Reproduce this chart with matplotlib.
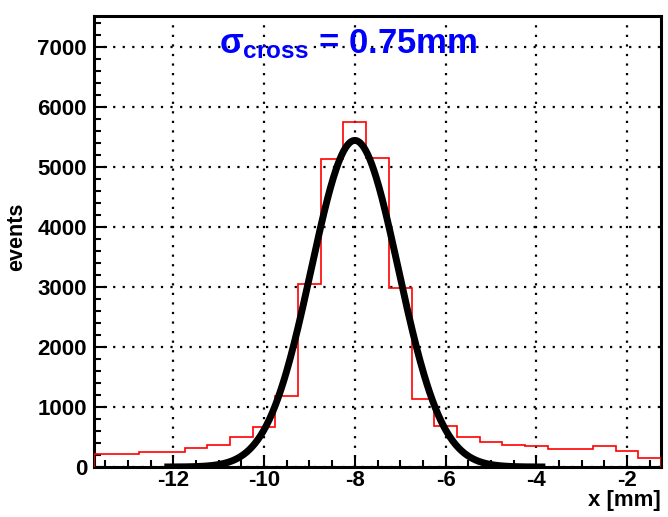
#Histogram of x position with gaussian fit, ROOT style look

import matplotlib
matplotlib.use('Agg')
import matplotlib.pyplot as plt
import matplotlib.ticker as mtick
import numpy as np

#Histogram: 25 bins of 0.5 mm from -13.75 to -1.25
bin_lo = -13.75
bin_hi = -1.25
counts = [215, 225, 255, 255, 310, 375, 495, 670, 1180, 3045,
          5130, 5745, 5155, 2990, 1140, 678, 505, 415, 370, 345,
          292, 300, 356, 267, 145]

#Gaussian fit parameters and fit range
fit_amp = 5445.
fit_mean = -8.0
fit_sigma = 0.96
fit_range = (-12.2, -3.8)

title_txt = r'$\sigma_{cross}$ = 0.75mm'

#Fonts
plt.rcParams['font.family'] = ['Liberation Sans', 'DejaVu Sans']
plt.rcParams['font.weight'] = 'bold'
plt.rcParams['axes.unicode_minus'] = False
plt.rcParams['mathtext.fontset'] = 'custom'
plt.rcParams['mathtext.rm'] = 'Liberation Sans:bold'
plt.rcParams['mathtext.it'] = 'Liberation Sans:bold'
plt.rcParams['mathtext.bf'] = 'Liberation Sans:bold'

fig = plt.figure(figsize=(6.68, 5.17), dpi=100)
ax = fig.add_axes([94/668., 1-467/517., 567/668., 451/517.])

edges = np.linspace(bin_lo, bin_hi, len(counts)+1)
ax.stairs(counts, edges, baseline=0, color='red', lw=1.2, zorder=3)

xf = np.linspace(fit_range[0], fit_range[1], 400)
yf = fit_amp*np.exp(-0.5*((xf-fit_mean)/fit_sigma)**2)
ax.plot(xf, yf, color='black', lw=5, zorder=4, solid_capstyle='butt')

ax.set_xlim(bin_lo, bin_hi)
ax.set_ylim(0, 7520)

ax.xaxis.set_major_locator(mtick.MultipleLocator(2))
ax.xaxis.set_minor_locator(mtick.MultipleLocator(0.5))
ax.yaxis.set_major_locator(mtick.MultipleLocator(1000))
ax.yaxis.set_minor_locator(mtick.MultipleLocator(200))

ax.tick_params(axis='both', which='both', direction='in', top=False, right=False,
               width=1.5, labelsize=16)
ax.tick_params(axis='both', which='major', length=9)
ax.tick_params(axis='both', which='minor', length=5)
ax.tick_params(axis='x', pad=2.5)
ax.tick_params(axis='y', pad=5)

for s in ax.spines.values():
    s.set_linewidth(2.2)

ax.grid(True, which='major', color='black', linestyle=(0, (1, 3.3)), linewidth=1.6, zorder=0)
ax.set_axisbelow(True)

ax.set_xlabel('x [mm]', fontsize=16, fontweight='bold', ha='right')
ax.xaxis.set_label_coords(1.0, -0.052)
ax.set_ylabel('events', fontsize=15.5, fontweight='bold')
ax.yaxis.set_label_coords(-0.118, 0.51)

ax.text(-11.0, 6900, title_txt, color='blue', fontsize=25, fontweight='bold',
        ha='left', va='baseline', zorder=5)

plt.savefig('out.png', dpi=100)
